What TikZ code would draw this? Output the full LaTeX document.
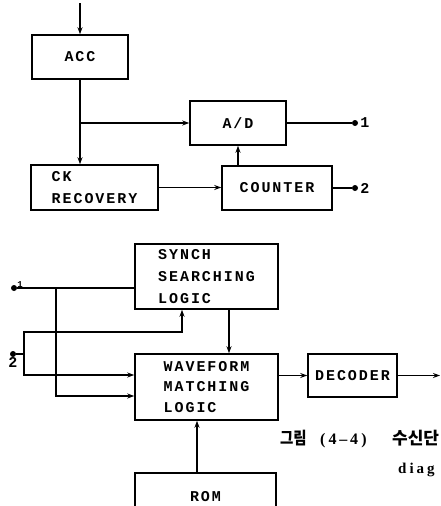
\documentclass[tikz,border=0pt]{standalone}
\usepackage{fontspec}
\usepackage{tikz}
\usetikzlibrary{arrows.meta, positioning}
\newfontfamily\blkfont{Liberation Mono}[LetterSpace=13]
\newfontfamily\wdfont{Liberation Serif}[LetterSpace=20]
\newfontfamily\kofont{Noto Sans CJK KR}

\begin{document}
\begin{tikzpicture}[x=1pt, y=-1pt,
    blk/.style={draw, line width=1.5pt, inner sep=0pt, align=left,
      font=\blkfont\bfseries\fontsize{15}{22}\selectfont},
    conn/.style={line width=1.5pt},
    arr/.style={conn, -{Stealth[length=7pt, width=5pt]}},
    tap/.style={circle, fill, inner sep=0pt, minimum size=6pt},
    num/.style={font=\blkfont\bfseries\fontsize{15}{17}\selectfont, inner sep=1pt}]
  \useasboundingbox (0,0) rectangle (441,506);
  % Upper blocks
  \node[blk, minimum width=96pt, minimum height=44pt] (acc) at (80,57) {ACC};
  \node[blk, minimum width=96pt, minimum height=44pt] (ad) at (238,123) {A/D};
  \node[blk, minimum width=127pt, minimum height=45pt] (ckrec) at (94.5,187.5) {CK\\RECOVERY};
  \node[blk, minimum width=110pt, minimum height=44pt] (counter) at (277,188) {COUNTER};
  \node[tap] (o1) at (355,123) {};
  \node[tap] (o2) at (355,188) {};
  \node[num, right=1pt of o1] (l1) {1};
  \node[num, right=1pt of o2] (l2) {2};
  \coordinate (in) at (80,3);
  \coordinate (j0) at (acc.south |- ad.west);
  \draw[arr] (in) -- (acc.north);
  \draw[arr] (acc.south) -- (acc.south |- ckrec.north);
  \draw[arr] (j0) -- (ad.west);
  \draw[arr] (ckrec.east) -- (ckrec.east -| counter.west);
  \draw[arr] (counter.north -| ad.south) -- (ad.south);
  \draw[conn] (ad.east) -- (o1);
  \draw[conn] (counter.east) -- (o2);
  % Lower blocks
  \node[blk, minimum width=143pt, minimum height=65pt] (synch) at (206.5,276.5) {SYNCH\\SEARCHING\\LOGIC};
  \node[blk, minimum width=143pt, minimum height=66pt, font=\blkfont\bfseries\fontsize{15}{20.5}\selectfont] (wave) at (206.5,387) {WAVEFORM\\MATCHING\\LOGIC};
  \node[blk, minimum width=89pt, minimum height=43pt] (decoder) at (352.5,375.5) {DECODER};
  \node[blk, minimum width=141pt, minimum height=48pt] (rom) at (205.5,497) {ROM};
  \node[tap] (i1) at (14,288) {};
  \node[tap] (i2) at (13,354) {};
  \node[num, font=\blkfont\bfseries\fontsize{9}{10}\selectfont, above right=-3pt and 0pt of i1] (m1) {1};
  \node[num, below=-1pt of i2] (m2) {2};
  \coordinate (j1) at (56,288);
  \coordinate (j2) at (24,354);
  \coordinate (k2) at (24,332);
  \coordinate (s2) at ([xshift=-24.5pt]synch.south);
  \coordinate (dout) at (440,375.5);
  \draw[conn] (i1) -- (i1 -| synch.west);
  \draw[arr] (j1) |- ([yshift=-9pt]wave.west);
  \draw[conn] (i2) -- (j2);
  \draw[arr] (j2) -- (k2) -| (s2);
  \draw[arr] (j2) |- ([yshift=12pt]wave.west);
  \draw[arr] ([xshift=22.5pt]synch.south) -- ([xshift=22.5pt]wave.north);
  \draw[arr] (wave.east |- decoder.west) -- (decoder.west);
  \draw[arr] (decoder.east) -- (dout);
  \draw[arr] ([xshift=-8.5pt]rom.north) -- ([xshift=-8.5pt]rom.north |- wave.south);
  % Caption
  \node[font=\kofont\bfseries\fontsize{17}{19}\selectfont, anchor=base west, inner sep=0pt] (cap) at (280,444)
    {\makebox[40pt][l]{\scalebox{0.85}[1]{그림}}\makebox[72pt][l]{\wdfont\bfseries\fontsize{16}{18}\selectfont(4\,–\,4)}수신단};
  \node[font=\wdfont\bfseries\fontsize{15}{17}\selectfont, anchor=base west, inner sep=0pt] (cap2) at (398,473) {diag};
\end{tikzpicture}
\end{document}
